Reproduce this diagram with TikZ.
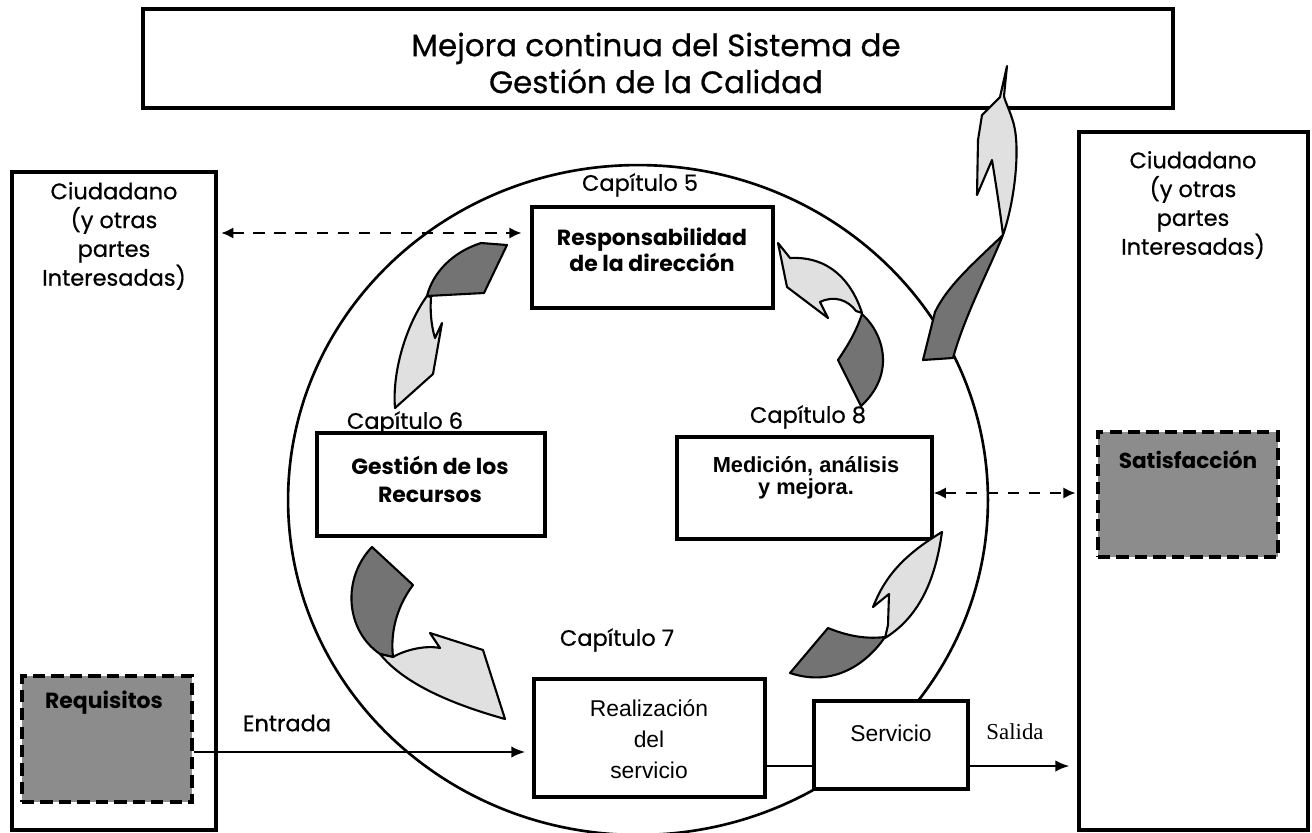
\documentclass[tikz,border=0pt]{standalone}
\usepackage{fontspec}
\setmainfont{Poppins}
\newfontfamily\gothicm{Poppins}[FakeBold=0.6]
\newfontfamily\arialf{Liberation Sans}
\newfontfamily\timesf{Liberation Serif}
\usetikzlibrary{arrows.meta,fit,shapes.geometric}
\begin{document}
\begin{tikzpicture}[x=0.02cm,y=-0.02cm,
  box/.style={draw, line width=1.8pt, fill=white, inner sep=0pt},
  gbox/.style={draw, line width=2.4pt, dash pattern=on 7pt off 3.5pt, fill=black!45, inner sep=0pt},
  lbl/.style={inner sep=0pt, align=center},
  darkp/.style={draw, line width=1.2pt, fill=black!55, line join=round},
  lightp/.style={draw, line width=1.2pt, fill=black!12, line join=round},
  darr/.style={line width=1.4pt, dash pattern=on 6.5pt off 5.5pt, {Latex[length=7pt,width=6.5pt]}-{Latex[length=7pt,width=6.5pt]}},
  sarr/.style={line width=1.4pt, -{Latex[length=8pt,width=6.5pt]}},
  gothic/.style={font=\gothicm\fontsize{12.8}{16.4}\selectfont},
]
\useasboundingbox (0,0) rectangle (1312,832);

% big circle
\node[draw, ellipse, line width=1.5pt, minimum width=14cm, minimum height=13.4cm, inner sep=0pt] (circ) at (638,500) {};

% boxes
\node[box, fit={(143,9) (1173,108)}] (top) {};
\node[box, fill=none, fit={(12,172) (216,830)}] (lbox) {};
\node[box, fill=none, fit={(1079,132) (1308,830)}] (rbox) {};
\node[box, fit={(532,207) (773,308)}] (resp) {};
\node[box, fit={(317,433) (545,536)}] (gest) {};
\node[box, fit={(677,437) (932,539)}] (med) {};
\node[box, fit={(534,679) (765,797)}] (real) {};
\node[box, fit={(814,701) (968,789)}] (serv) {};
\node[gbox, fit={(22,676) (192,802)}] (req) {};
\node[gbox, fit={(1098,432) (1278,557)}] (sat) {};

% texts
\node[lbl, font=\gothicm\fontsize{17.6}{21}\selectfont] (toptxt) at (656,63) {Mejora continua del Sistema de\\Gestión de la Calidad};
\node[lbl, gothic] (ltxt) at (114,236) {Ciudadano\\(y otras\\partes\\Interesadas)};
\node[lbl, gothic] (rtxt) at (1193,205) {Ciudadano\\(y otras\\partes\\Interesadas)};
\node[lbl, gothic] (c5) at (640,185) {Capítulo 5};
\node[lbl, gothic] (c6) at (405,423) {Capítulo 6};
\node[lbl, gothic] (c7) at (617,640) {Capítulo 7};
\node[lbl, gothic] (c8) at (808,417) {Capítulo 8};
\node[lbl, font=\fontsize{12.5}{14.7}\selectfont\bfseries] (resptxt) at (652,250) {Responsabilidad\\de la dirección};
\node[lbl, font=\fontsize{12.5}{16}\selectfont\bfseries] (gesttxt) at (430,479) {Gestión de los\\Recursos};
\node[lbl, font=\arialf\fontsize{12.4}{12.8}\selectfont\bfseries] (medtxt) at (806,478) {Medición, análisis\\y mejora.};
\node[lbl, font=\arialf\fontsize{13}{17.6}\selectfont] (realtxt) at (649,739) {Realización\\del\\servicio};
\node[lbl, font=\arialf\fontsize{13}{15}\selectfont] (servtxt) at (891,733) {Servicio};
\node[lbl, font=\timesf\fontsize{13}{15}\selectfont] (saltxt) at (1015,732) {Salida};
\node[lbl, gothic] (enttxt) at (287,723) {Entrada};
\node[lbl, font=\fontsize{12.5}{15}\selectfont\bfseries] (reqtxt) at (104,703) {Requisitos};
\node[lbl, font=\fontsize{12.3}{15}\selectfont\bfseries] (sattxt) at (1188,460) {Satisfacción};

% connectors
\coordinate (ey) at (0,752);
\draw[sarr, shorten >=4pt] (req.east |- ey) -- (real.west |- ey);
\coordinate (sy) at (0,766);
\draw[line width=1.4pt] (real.east |- sy) -- (serv.west |- sy);
\draw[sarr, shorten >=4.5pt] (serv.east |- sy) -- (rbox.west |- sy);
\coordinate (d1) at (0,233);
\draw[darr, shorten <=2pt, shorten >=5pt] (lbox.east |- d1) -- (resp.west |- d1);
\coordinate (d2) at (0,493);
\draw[darr, shorten >=1pt] (med.east |- d2) -- (rbox.west |- d2);

% twisted arrows
% Cap5 -> Cap6
\path[darkp] (481,243) -- (507,245) -- (484,293) -- (427,296) .. controls (433,272) and (453,252) .. (481,243) -- cycle;
\path[lightp] (427,296) .. controls (406,325) and (392,372) .. (395,408) -- (433,374) -- (442,323) -- (435,338) .. controls (431,325) and (430,310) .. (431,297) -- cycle;
% Cap8 -> Cap5
\path[lightp] (778,243) -- (790,258) .. controls (830,256) and (852,282) .. (862,313) -- (856,311) .. controls (848,300) and (834,295) .. (820,302) -- (828,318) -- (787,287) -- cycle;
\path[darkp] (862,314) .. controls (885,335) and (895,375) .. (861,406) -- (838,360) .. controls (848,345) and (856,332) .. (862,314) -- cycle;
% Cap6 -> Cap7
\path[darkp] (372,547) -- (413,585) .. controls (398,605) and (390,630) .. (393,657) -- (380,654) .. controls (345,630) and (342,578) .. (372,547) -- cycle;
\path[lightp] (380,654) .. controls (405,685) and (455,705) .. (505,719) -- (483,650) -- (430,633) -- (440,648) .. controls (425,645) and (405,650) .. (393,657) -- cycle;
% Cap7 -> Cap8
\path[darkp] (790,673) -- (828,628) .. controls (850,637) and (868,639) .. (885,637) .. controls (868,662) and (835,688) .. (790,673) -- cycle;
\path[lightp] (885,638) -- (888,625) -- (889,594) -- (873,607) .. controls (882,585) and (895,560) .. (942,532) .. controls (936,575) and (922,615) .. (885,638) -- cycle;
% to top box
\path[lightp] (1007,66) -- (1000,97) -- (982,115) -- (978,140) -- (977,195) -- (992,160) .. controls (996,185) and (1000,210) .. (1003,235) .. controls (1015,200) and (1020,150) .. (1014,125) .. controls (1010,110) and (1005,102) .. (1004,96) -- cycle;
\path[darkp] (1003,235) .. controls (975,262) and (948,285) .. (935,312) -- (923,360) -- (953,358) .. controls (965,315) and (988,272) .. (1003,235) -- cycle;
\end{tikzpicture}
\end{document}
